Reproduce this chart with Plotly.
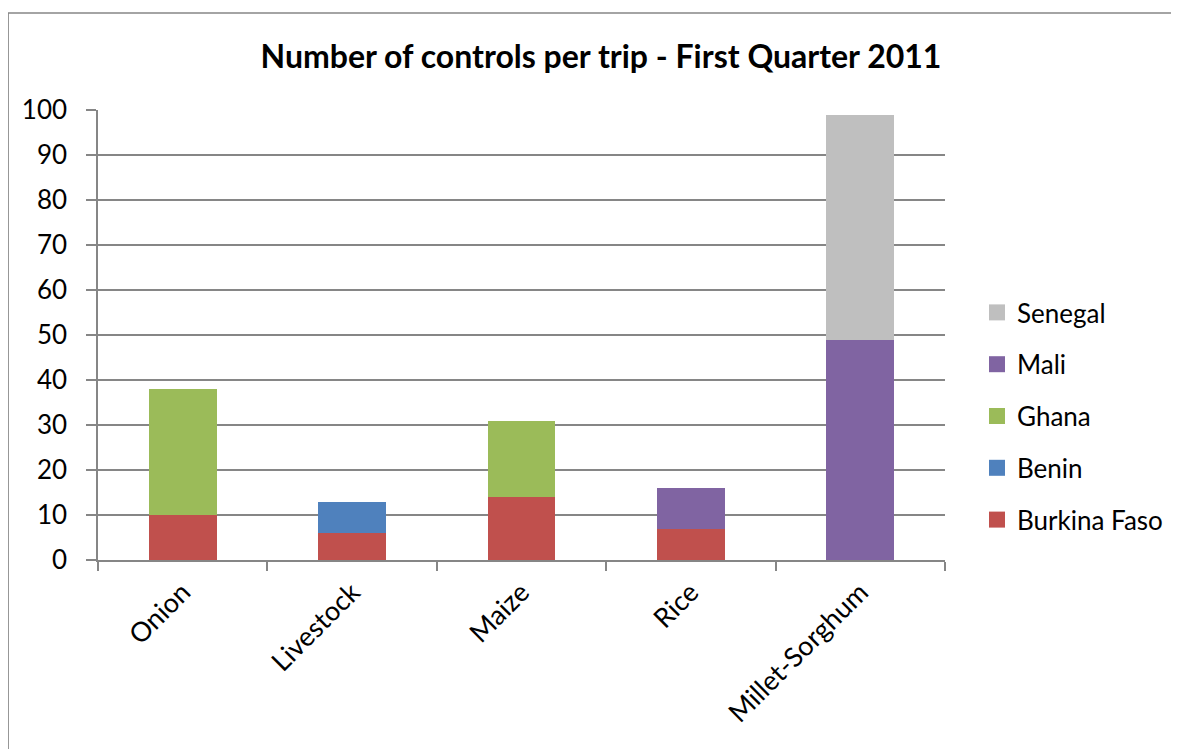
import plotly.graph_objects as go

categories = ["Onion", "Livestock", "Maize", "Rice", "Millet-Sorghum"]
burkina_faso = [10, 6, 14, 7, None]
benin = [None, 7, None, None, None]
ghana = [28, None, 17, None, None]
mali = [None, None, None, 9, 49]
senegal = [None, None, None, None, 50]

series = [
    ("Burkina Faso", burkina_faso, "#C0504D"),
    ("Benin", benin, "#4F81BD"),
    ("Ghana", ghana, "#9BBB59"),
    ("Mali", mali, "#8064A2"),
    ("Senegal", senegal, "#BFBFBF"),
]

FONT = "Lato, Open Sans, sans-serif"
fig = go.Figure()
for i, (name, vals, color) in enumerate(series):
    fig.add_trace(go.Bar(
        x=categories, y=vals, name=name, showlegend=False,
        marker=dict(color=color, line=dict(width=0)), width=0.4,
    ))
    fig.add_trace(go.Scatter(
        x=[None], y=[None], mode="markers", name=name, legendrank=100 - i,
        legendgroup=name,
        marker=dict(color=color, symbol="square", size=16),
    ))

W, H = 1171, 741
L, R, T, B = 90, 233, 102, 189
pw = W - L - R
ph = H - T - B

fig.update_layout(
    barmode="stack",
    width=W, height=H,
    margin=dict(l=L, r=R, t=T, b=B, pad=0),
    paper_bgcolor="white", plot_bgcolor="white",
    font=dict(family=FONT, size=26, color="black"),
    title=dict(text="<b>Number of controls per trip - First Quarter 2011</b>",
               x=593 / W, xanchor="center", y=1 - 49 / H, yanchor="middle",
               font=dict(family=FONT, size=32, color="black")),
    showlegend=True,
    legend=dict(x=(969 - L) / pw, xanchor="left", y=(552 - 281) / ph, yanchor="top",
                tracegroupgap=15, font=dict(size=26), itemwidth=30,
                traceorder="grouped"),
    bargap=0.6,
)
fig.update_yaxes(range=[0, 100], dtick=10, showgrid=True, gridcolor="#868686", gridwidth=1.5,
                 showline=True, linecolor="#868686", linewidth=1.5,
                 ticks="outside", ticklen=10, tickcolor="#868686", tickwidth=1.5,
                 zeroline=False, tickfont=dict(size=26), ticklabelstandoff=14,
                 fixedrange=True)
fig.update_xaxes(showline=True, linecolor="#868686", linewidth=1.5,
                 ticks="outside", ticklen=9, tickcolor="#868686", tickwidth=1.5,
                 tickson="boundaries", tickangle=-45, tickfont=dict(size=27),
                 ticklabelstandoff=4, showgrid=False)
# outer chart border
fig.add_shape(type="rect", xref="paper", yref="paper",
              x0=(0 - L) / pw, x1=(1168 - L) / pw,
              y0=(552 - 760) / ph, y1=(552 - 5) / ph,
              line=dict(color="#868686", width=1.5), fillcolor="rgba(0,0,0,0)", layer="below")
fig.write_html("out.html")
